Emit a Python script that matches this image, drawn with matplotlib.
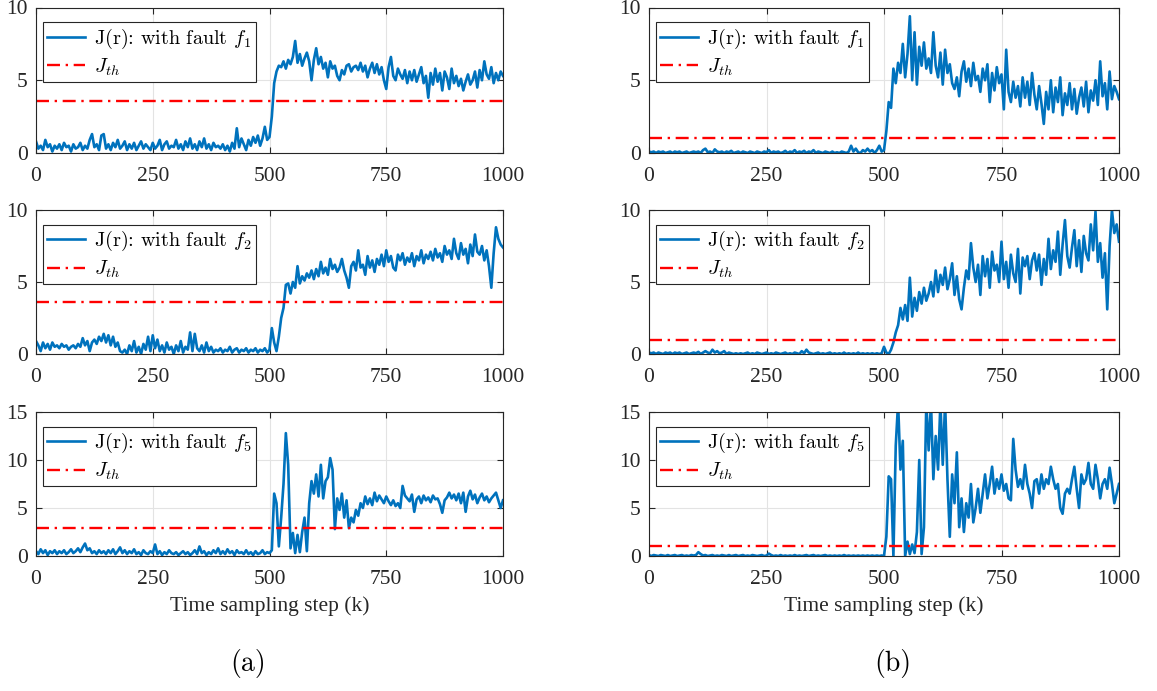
import numpy as np
import matplotlib
matplotlib.use("Agg")
import matplotlib.pyplot as plt

# ---------------- data (sampled every 5 steps, k = 0..1000) ----------------
k_step = 5
k_max = 1000

left_f1 = [
    0.8,0.3,0.5,0.2,0.9,0.4,0.6,0.1,0.5,0.3,
    0.6,0.2,0.7,0.4,0.5,0.1,0.6,0.3,0.4,0.7,
    0.2,0.5,0.3,0.9,1.3,0.4,0.6,0.2,1.2,1.3,
    0.3,0.6,0.2,0.7,0.4,0.9,0.3,0.5,0.8,0.2,
    0.6,0.3,0.7,0.2,0.5,0.8,0.3,0.6,0.4,0.2,
    0.7,0.3,0.5,0.9,0.2,0.6,0.8,0.3,0.5,0.4,
    0.9,0.3,0.6,0.2,0.8,0.4,1.0,0.3,0.6,0.2,
    0.8,0.4,1.0,0.3,0.6,0.2,0.7,0.4,0.5,0.3,
    0.6,0.2,0.5,0.1,0.7,0.3,1.7,0.4,1.0,0.6,
    0.2,0.9,0.5,1.1,0.7,1.2,0.5,1.0,1.8,0.9,
    1.1,2.5,4.8,5.6,6.0,5.9,6.3,5.8,6.4,6.1,
    6.6,7.7,6.2,6.8,6.0,6.5,6.9,6.3,5.0,6.4,
    7.2,6.1,6.6,5.8,6.2,5.2,6.3,5.8,6.0,5.3,
    5.0,5.7,5.4,6.0,6.1,5.6,5.9,6.0,5.7,6.2,
    5.6,6.0,5.2,5.8,6.2,5.5,6.1,5.4,5.9,5.0,
    4.4,5.9,6.6,5.3,5.0,5.8,5.4,5.1,5.7,4.8,
    5.6,5.0,5.7,4.9,5.4,5.9,4.8,5.3,3.8,5.5,
    4.7,5.8,4.9,5.5,4.3,5.6,5.2,4.4,5.8,4.8,
    5.3,4.6,5.1,4.3,4.9,5.4,4.7,5.0,5.6,4.5,
    5.7,5.0,6.3,5.4,5.1,5.9,4.8,5.5,5.0,5.6,
    5.3]

right_f1 = [
    0.1,0.05,0.1,0.0,0.1,0.05,0.1,0.0,0.05,0.1,
    0.0,0.1,0.05,0.1,0.0,0.05,0.1,0.0,0.05,0.1,
    0.05,0.1,0.0,0.2,0.3,0.05,0.1,0.0,0.25,0.1,
    0.05,0.1,0.0,0.1,0.05,0.15,0.0,0.05,0.1,0.0,
    0.1,0.05,0.0,0.1,0.05,0.0,0.1,0.05,0.0,0.1,
    0.05,0.2,0.0,0.1,0.05,0.1,0.0,0.05,0.15,0.0,
    0.1,0.05,0.2,0.0,0.1,0.05,0.15,0.0,0.1,0.05,
    0.2,0.0,0.1,0.05,0.0,0.1,0.05,0.0,0.1,0.0,
    0.05,0.0,0.1,0.05,0.0,0.1,0.5,0.1,0.3,0.05,
    0.0,0.2,0.1,0.3,0.1,0.2,0.0,0.2,0.5,0.1,
    0.2,1.5,3.5,3.1,5.8,4.8,6.2,5.5,7.5,5.2,
    6.8,9.4,5.0,8.3,4.7,7.3,6.0,7.6,5.8,6.5,
    5.5,8.3,6.0,5.2,6.9,4.7,7.1,5.5,6.1,4.8,
    4.4,5.2,3.9,5.6,6.3,4.9,5.8,4.6,6.2,5.0,
    5.3,4.2,5.8,5.0,6.1,3.5,5.5,4.3,5.9,4.8,
    5.4,3.0,7.1,4.2,3.5,4.9,3.8,4.6,3.2,5.2,
    3.8,4.9,3.3,5.5,4.0,3.0,4.6,3.4,2.0,4.2,
    3.0,5.0,2.8,4.5,3.5,5.2,2.6,4.1,3.3,4.8,
    3.0,4.4,2.7,3.8,4.5,3.2,4.9,2.8,4.3,3.6,
    5.0,3.3,6.3,3.9,4.8,3.0,5.6,3.7,4.6,4.2,
    3.7]

left_f2 = [
    0.9,0.6,0.2,0.8,0.4,0.7,0.3,0.8,0.5,0.6,
    0.4,0.7,0.5,0.6,0.3,0.5,0.6,0.4,0.7,0.5,
    1.1,0.6,0.9,0.2,0.8,1.0,0.7,1.2,0.9,1.4,
    0.8,1.3,0.6,1.2,0.5,0.8,0.2,0.1,0.3,0.0,
    0.6,0.2,0.9,0.1,0.5,0.0,0.7,0.3,1.2,0.2,
    1.3,0.4,1.0,0.2,0.6,0.1,0.8,0.3,0.5,0.0,
    0.6,0.2,0.9,0.1,0.5,0.3,1.5,0.2,1.4,0.4,
    0.2,0.6,0.1,0.8,0.2,0.5,0.1,0.3,0.2,0.4,
    0.1,0.3,0.2,0.5,0.1,0.3,0.4,0.1,0.3,0.2,
    0.4,0.1,0.3,0.2,0.4,0.1,0.3,0.2,0.4,0.1,
    0.3,1.8,0.8,0.2,1.2,2.5,3.2,4.8,4.9,4.2,
    5.0,4.6,6.1,4.9,5.4,5.1,5.6,5.3,5.8,5.2,
    5.9,5.4,6.4,5.6,6.0,5.5,6.6,5.9,6.2,5.7,
    6.0,6.6,5.8,5.3,4.6,6.1,6.4,5.8,7.2,6.0,
    6.2,5.5,6.8,6.0,6.5,5.7,6.6,6.2,6.9,6.1,
    7.2,6.4,6.8,6.0,5.8,6.9,6.5,7.0,6.2,6.7,
    6.4,7.0,6.1,6.8,6.5,7.2,6.3,6.9,6.6,7.1,
    6.5,7.3,6.7,7.0,6.4,7.5,6.9,7.2,6.6,8.0,
    7.0,6.6,7.7,6.9,7.3,6.3,7.6,6.8,8.3,7.1,
    6.9,7.5,6.5,7.2,6.1,4.6,7.0,8.8,8.0,7.6,
    7.4]

right_f2 = [
    0.1,0.05,0.1,0.0,0.1,0.05,0.0,0.1,0.05,0.1,
    0.0,0.1,0.05,0.1,0.0,0.05,0.1,0.0,0.05,0.1,
    0.05,0.15,0.0,0.1,0.2,0.1,0.05,0.3,0.1,0.2,
    0.05,0.1,0.2,0.0,0.1,0.05,0.0,0.05,0.0,0.05,
    0.0,0.05,0.1,0.0,0.05,0.0,0.1,0.05,0.0,0.05,
    0.1,0.0,0.05,0.0,0.1,0.05,0.0,0.05,0.1,0.0,
    0.05,0.0,0.1,0.05,0.0,0.2,0.05,0.3,0.1,0.05,
    0.0,0.05,0.1,0.0,0.05,0.0,0.05,0.1,0.0,0.05,
    0.0,0.05,0.0,0.1,0.0,0.05,0.0,0.05,0.0,0.1,
    0.0,0.05,0.0,0.05,0.0,0.05,0.0,0.05,0.0,0.05,
    0.5,0.1,0.0,0.3,0.8,1.5,2.0,3.2,2.4,3.4,
    2.3,5.3,2.6,3.9,3.0,4.3,3.5,4.6,3.7,4.2,
    5.0,4.0,5.8,4.3,5.5,4.8,6.0,4.5,5.2,6.3,
    4.1,5.4,3.8,3.1,4.6,5.8,5.2,7.7,6.0,5.0,
    6.2,4.1,6.8,5.4,6.6,4.6,7.1,5.8,6.2,5.0,
    7.8,5.2,6.4,4.6,6.9,5.6,5.0,7.3,4.2,6.7,
    6.1,6.8,5.2,6.5,7.0,5.8,6.9,4.8,6.6,5.5,
    8.0,5.9,7.2,6.4,8.5,5.5,7.6,9.3,6.8,6.0,
    7.4,8.6,6.1,7.9,5.7,8.2,7.0,6.5,9.0,7.2,
    9.9,6.4,7.7,5.3,7.0,3.1,7.5,10.0,8.4,9.0,
    7.8]

left_f5 = [
    0.5,0.2,0.7,0.3,0.6,0.1,0.5,0.3,0.6,0.2,
    0.5,0.3,0.6,0.2,0.4,0.7,0.3,0.5,0.8,0.4,
    0.9,1.3,0.6,0.8,0.3,0.5,0.2,0.6,0.3,0.5,
    0.2,0.6,0.3,0.7,0.2,0.5,0.9,0.3,0.6,0.2,
    0.5,0.3,0.7,0.2,0.4,0.1,0.6,0.3,0.2,0.5,
    0.3,1.2,0.2,0.5,0.1,0.4,0.2,0.6,0.3,0.2,
    0.4,0.1,0.3,0.5,0.2,0.4,0.1,0.3,0.6,0.2,
    1.0,0.3,0.5,0.1,0.4,0.2,0.6,0.3,0.8,0.2,
    0.5,0.2,0.7,0.3,0.5,0.1,0.6,0.3,0.4,0.2,
    0.6,0.2,0.4,0.1,0.5,0.2,0.3,0.6,0.2,0.4,
    0.3,0.6,6.5,5.5,1.0,4.0,7.5,12.8,9.5,0.8,
    2.4,0.3,2.2,0.4,2.5,4.0,0.5,5.5,7.8,6.5,
    8.5,6.2,9.5,6.0,7.8,8.2,10.2,9.0,2.8,6.0,
    4.8,6.5,4.0,5.8,2.9,4.0,3.5,4.8,4.2,5.5,
    5.0,6.2,5.4,6.0,5.3,6.6,5.7,6.3,5.9,5.5,
    6.2,5.7,5.3,5.8,5.2,5.5,5.0,7.3,6.3,6.0,
    5.7,6.4,4.6,5.9,6.2,5.5,6.3,5.8,6.1,5.6,
    6.3,5.9,6.0,5.4,4.5,5.8,6.1,6.6,6.0,6.4,
    5.8,6.5,5.5,6.6,4.6,6.2,6.8,5.9,6.4,5.5,
    6.1,6.5,5.8,6.2,5.6,6.0,6.3,6.6,5.8,5.0,
    5.8]

right_f5 = [
    0.1,0.0,0.1,0.05,0.0,0.1,0.05,0.0,0.1,0.0,
    0.05,0.1,0.0,0.05,0.1,0.0,0.05,0.0,0.1,0.05,
    0.1,0.4,0.2,0.05,0.1,0.0,0.05,0.1,0.0,0.05,
    0.0,0.1,0.05,0.0,0.1,0.0,0.05,0.1,0.0,0.05,
    0.1,0.0,0.05,0.0,0.1,0.05,0.0,0.05,0.1,0.0,
    0.05,0.25,0.1,0.0,0.05,0.0,0.1,0.0,0.05,0.0,
    0.05,0.0,0.1,0.0,0.05,0.0,0.05,0.1,0.0,0.05,
    0.1,0.0,0.05,0.0,0.05,0.1,0.0,0.05,0.0,0.05,
    0.0,0.05,0.0,0.1,0.0,0.05,0.0,0.05,0.0,0.05,
    0.0,0.05,0.0,0.05,0.0,0.05,0.0,0.05,0.0,0.05,
    0.0,2.0,8.3,8.0,0.0,11.5,16.0,9.0,12.0,0.0,
    1.5,0.2,1.2,0.3,2.5,10.0,0.2,3.0,16.0,11.0,
    16.0,8.0,12.5,9.0,16.0,9.5,16.0,8.0,2.0,8.5,
    5.5,10.8,3.0,6.0,2.5,5.5,4.0,7.5,3.5,5.0,
    7.0,4.5,6.5,8.5,6.0,7.5,9.3,6.5,8.0,7.0,
    8.5,6.8,7.5,6.0,5.8,12.2,9.0,7.2,8.0,7.0,
    9.5,7.5,6.5,5.0,7.8,8.0,6.5,8.5,7.0,8.0,
    7.5,9.3,8.0,7.0,7.5,5.0,4.4,6.5,7.0,6.5,
    8.0,9.3,7.0,5.0,8.5,7.5,8.0,9.7,7.5,7.0,
    9.5,8.0,6.0,7.5,8.0,7.0,9.2,7.5,5.5,6.5,
    7.5]

thresholds_left = [3.55, 3.6, 2.9]
thresholds_right = [1.0, 1.0, 1.0]
fault_labels = ["1", "2", "5"]
y_limits = [10, 10, 15]
y_ticks = [[0, 5, 10], [0, 5, 10], [0, 5, 10, 15]]
x_ticks = [0, 250, 500, 750, 1000]
x_label = "Time sampling step (k)"
panel_labels = ["(a)", "(b)"]

# ---------------- figure ----------------
plt.rcParams['mathtext.fontset'] = 'cm'
TICK_FONT = 'Liberation Serif'
CM_FONT = 'cmr10'

BLUE = '#0072BD'
fig = plt.figure(figsize=(11.57, 6.91), dpi=100)

k = np.arange(0, k_max + 1, k_step)
left_series = [left_f1, left_f2, left_f5]
right_series = [right_f1, right_f2, right_f5]

col_left = [36 / 1157, 467 / 1157]
col_right = [649 / 1157, 470 / 1157]
row_y = [(1 - 153 / 691, 145.5 / 691), (1 - 354 / 691, 144 / 691), (1 - 556 / 691, 144 / 691)]

dash = (0, (5.5, 2.4, 1.0, 2.4))

def style_axes(ax, r):
    ax.set_xlim(0, k_max)
    ax.set_ylim(0, y_limits[r])
    ax.set_xticks(x_ticks)
    ax.set_yticks(y_ticks[r])
    ax.grid(True, color='#e3e3e3', linewidth=0.8)
    ax.set_axisbelow(True)
    ax.tick_params(direction='in', top=True, right=True, length=4,
                   width=0.8, color='#262626', labelsize=15.5)
    ax.tick_params(axis='x', pad=10)
    ax.tick_params(axis='y', pad=6)
    for lab in ax.get_xticklabels() + ax.get_yticklabels():
        lab.set_fontfamily(TICK_FONT)
        lab.set_color('#262626')
    for sp in ax.spines.values():
        sp.set_color('#262626')
        sp.set_linewidth(0.8)

for col, (series_list, thr_list, colpos) in enumerate(
        [(left_series, thresholds_left, col_left), (right_series, thresholds_right, col_right)]):
    for r in range(3):
        ax = fig.add_axes([colpos[0], row_y[r][0], colpos[1], row_y[r][1]])
        ax.plot(k, series_list[r], color=BLUE, linewidth=1.9,
                label=r'J(r): with fault $f_{%s}$' % fault_labels[r])
        ax.axhline(thr_list[r], color='#ff0000', linewidth=1.7, linestyle=dash,
                   label=r'$J_{th}$')
        style_axes(ax, r)
        leg = ax.legend(loc='upper left', bbox_to_anchor=(0.015, 0.897), fancybox=False,
                        framealpha=1, edgecolor='#262626', borderpad=0.2,
                        handlelength=1.9, handletextpad=0.45, labelspacing=0.28,
                        borderaxespad=0.0,
                        prop={'family': CM_FONT, 'size': 14.5})
        leg.get_frame().set_linewidth(0.8)
        if r == 2:
            ax.set_xlabel(x_label, fontfamily=TICK_FONT, fontsize=15.5,
                          color='#262626', labelpad=5)

fig.text(248 / 1157, 1 - 664 / 691, panel_labels[0], fontfamily=CM_FONT,
         fontsize=20, ha='center', va='center')
fig.text(893 / 1157, 1 - 664 / 691, panel_labels[1], fontfamily=CM_FONT,
         fontsize=20, ha='center', va='center')

fig.savefig('out.png', dpi=100)
